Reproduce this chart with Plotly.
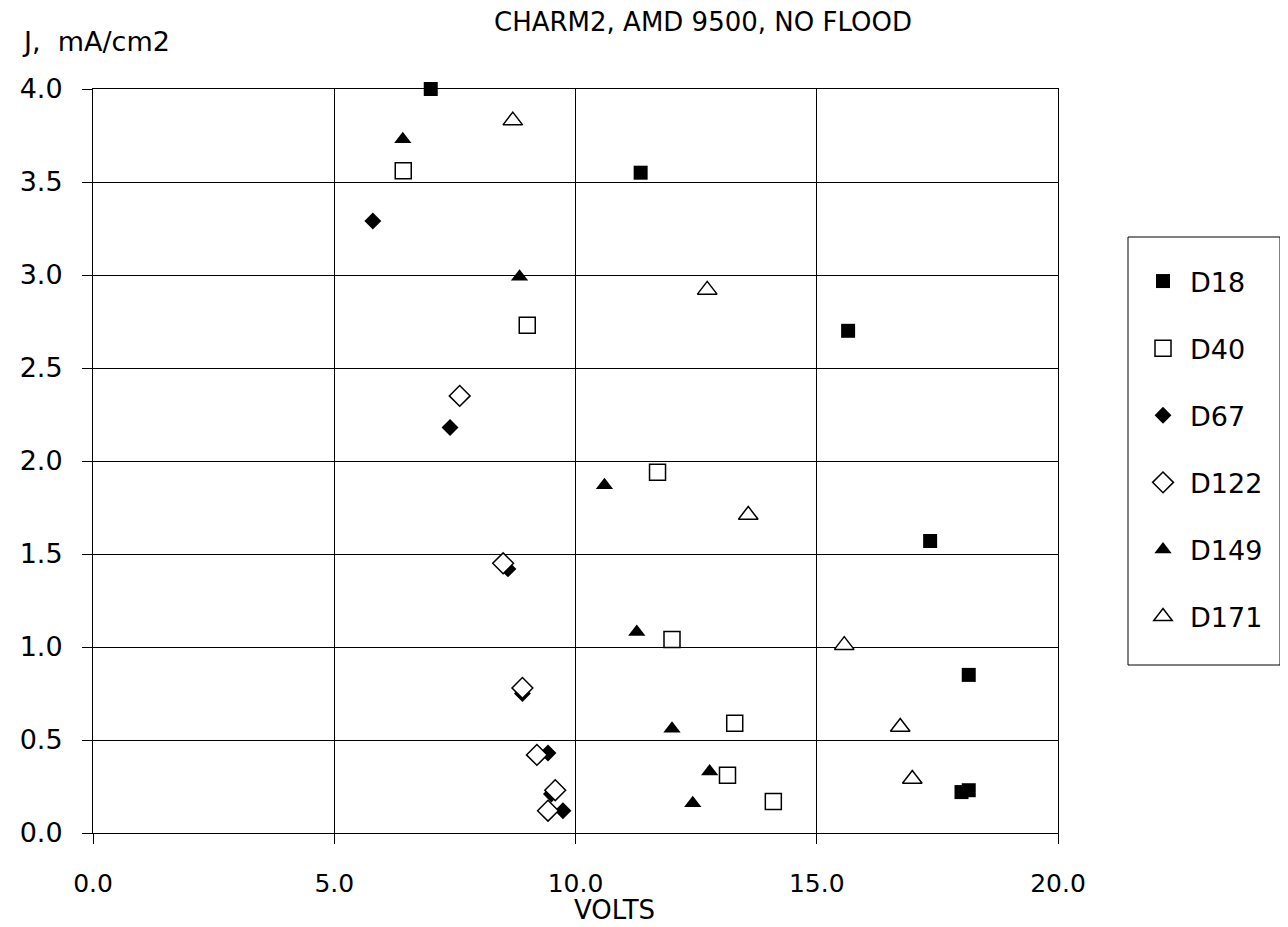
import plotly.graph_objects as go

# ---- data ----
d18_x = [7.0, 11.35, 15.65, 17.35, 18.15, 18.0, 18.15]
d18_y = [4.0, 3.55, 2.70, 1.57, 0.85, 0.22, 0.23]

d40_x = [6.43, 9.0, 11.7, 12.0, 13.3, 13.15, 14.1]
d40_y = [3.56, 2.73, 1.94, 1.04, 0.59, 0.31, 0.17]

d67_x = [5.8, 7.4, 8.6, 8.9, 9.43, 9.5, 9.74]
d67_y = [3.29, 2.18, 1.42, 0.75, 0.43, 0.21, 0.12]

d122_x = [7.6, 8.5, 8.9, 9.2, 9.58, 9.43]
d122_y = [2.35, 1.45, 0.78, 0.42, 0.23, 0.12]

d149_x = [6.42, 8.84, 10.6, 11.27, 12.0, 12.78, 12.43]
d149_y = [3.73, 2.99, 1.87, 1.08, 0.56, 0.33, 0.16]

d171_x = [8.7, 12.73, 13.58, 15.57, 16.73, 16.98]
d171_y = [3.83, 2.92, 1.71, 1.01, 0.57, 0.29]

x_ticks = [0, 5, 10, 15, 20]
y_ticks = [0, 0.5, 1.0, 1.5, 2.0, 2.5, 3.0, 3.5, 4.0]

FONT = "DejaVu Sans"
W, H = 1280, 919
L, R, T, B = 85, 230, 81, 94

series = [
    ("D18", d18_x, d18_y, dict(symbol="square", size=14, color="black")),
    ("D40", d40_x, d40_y, dict(symbol="square", size=16, color="white",
                               line=dict(color="black", width=1.5))),
    ("D67", d67_x, d67_y, dict(symbol="diamond", size=13, color="black")),
    ("D122", d122_x, d122_y, dict(symbol="diamond", size=16, color="white",
                                  line=dict(color="black", width=1.5))),
    ("D149", d149_x, d149_y, dict(symbol="triangle-up", size=15, color="black")),
    ("D171", d171_x, d171_y, dict(symbol="triangle-up", size=17, color="white",
                                  line=dict(color="black", width=1.5))),
]

fig = go.Figure()
for name, xs, ys, mk in series:
    fig.add_trace(go.Scatter(x=xs, y=ys, mode="markers", name=name,
                             legendgroup=name, marker=mk, cliponaxis=False))

pw = W - L - R
ph = H - T - B


def px_x(px):
    return (px - L) / pw


def px_y(py):
    return (H - B - py) / ph


fig.update_layout(
    width=W, height=H,
    margin=dict(l=L, r=R, t=T, b=B),
    paper_bgcolor="white", plot_bgcolor="white",
    font=dict(family=FONT, size=26, color="black"),
    title=dict(text="CHARM2, AMD 9500, NO FLOOD", x=695 / W, xref="container",
               xanchor="center", y=1 - 14 / H, yanchor="middle",
               font=dict(family=FONT, size=26, color="black")),
    showlegend=True,
    legend=dict(x=px_x(1128), y=px_y(249), xanchor="left", yanchor="top",
                borderwidth=0, bgcolor="rgba(0,0,0,0)",
                font=dict(family=FONT, size=27, color="black"),
                tracegroupgap=29, itemwidth=44, itemsizing="trace"),
    xaxis=dict(range=[0, 20], tickvals=x_ticks, tickformat=".1f",
               showgrid=True, gridcolor="black", gridwidth=1,
               showline=True, linecolor="black", linewidth=1, mirror=True,
               ticks="outside", ticklen=10, tickcolor="black",
               ticklabelstandoff=18, zeroline=False,
               tickfont=dict(family=FONT, size=25, color="black")),
    yaxis=dict(range=[0, 4], tickvals=y_ticks, tickformat=".1f",
               showgrid=True, gridcolor="black", gridwidth=1,
               showline=True, linecolor="black", linewidth=1, mirror=True,
               ticks="outside", ticklen=10, tickcolor="black",
               ticklabelstandoff=14, zeroline=False,
               tickfont=dict(family=FONT, size=27, color="black")),
    shapes=[
        dict(type="rect", xref="paper", yref="paper",
             x0=px_x(1120), x1=px_x(1272), y0=px_y(657), y1=px_y(229),
             line=dict(color="black", width=1), fillcolor="rgba(0,0,0,0)"),
    ],
    annotations=[
        dict(text="J,  mA/cm2", xref="paper", yref="paper", x=px_x(12), y=px_y(34),
             xanchor="left", yanchor="middle", showarrow=False,
             font=dict(family=FONT, size=27, color="black")),
        dict(text="VOLTS", xref="paper", yref="paper", x=px_x(606), y=px_y(902),
             xanchor="center", yanchor="middle", showarrow=False,
             font=dict(family=FONT, size=26, color="black")),
    ],
)

fig.write_html("out.html")
